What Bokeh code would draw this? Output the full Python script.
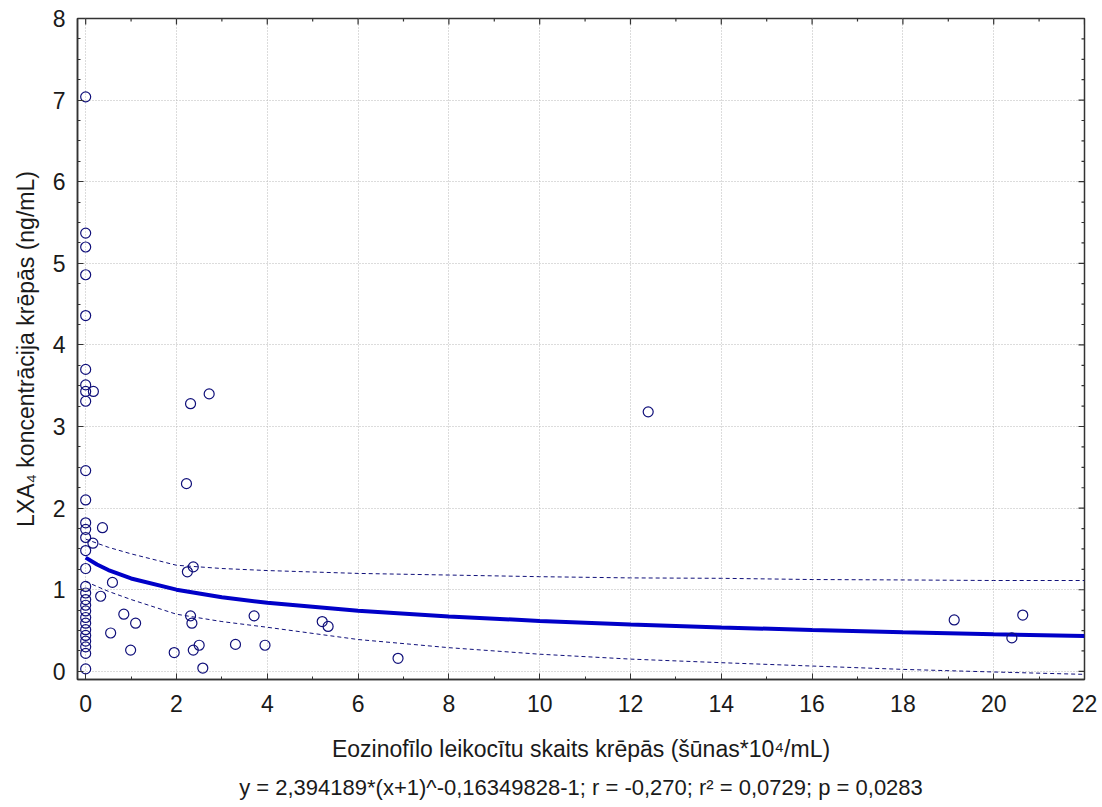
import math
from bokeh.plotting import figure
from bokeh.models import Range1d, SingleIntervalTicker, Title
from bokeh.embed import file_html
from bokeh.resources import INLINE

# ---- data ----
col_x = [0.0] * 29
col_y = [7.04, 5.37, 5.20, 4.86, 4.36, 3.70, 3.51, 3.43, 3.31, 2.46, 2.10, 1.82,
         1.74, 1.64, 1.48, 1.26, 1.04, 0.96, 0.88, 0.81, 0.74, 0.66, 0.59, 0.51,
         0.44, 0.37, 0.30, 0.22, 0.03]
pts_x = [0.17, 0.37, 0.16, 0.59, 0.33, 0.84, 1.10, 0.55, 0.99,
         2.72, 2.31, 2.22, 2.37, 2.24, 2.31, 2.34, 3.71, 5.21, 5.34, 1.95, 2.37,
         2.50, 3.30, 3.95, 2.58, 6.88,
         12.39, 19.13, 20.40, 20.64]
pts_y = [3.43, 1.76, 1.57, 1.09, 0.92, 0.70, 0.59, 0.47, 0.26,
         3.40, 3.28, 2.30, 1.28, 1.22, 0.68, 0.59, 0.68, 0.61, 0.55, 0.23, 0.26,
         0.32, 0.33, 0.32, 0.04, 0.16,
         3.18, 0.63, 0.41, 0.69]

fit_x = [0, 0.25, 0.5, 1, 2, 3, 4, 6, 8, 10, 12, 14, 16, 18, 20, 22]
fit_y = [1.394, 1.309, 1.241, 1.138, 1.001, 0.909, 0.840, 0.742, 0.672, 0.618,
         0.574, 0.538, 0.507, 0.480, 0.455, 0.434]

band_x = [0, 0.5, 1, 2, 3, 4, 6, 8, 10, 12, 14, 16, 18, 20, 22]
band_hi = [1.62, 1.52, 1.44, 1.30, 1.26, 1.235, 1.20, 1.18, 1.16, 1.145, 1.14,
           1.125, 1.12, 1.113, 1.113]
band_lo = [1.10, 0.98, 0.88, 0.70, 0.61, 0.54, 0.39, 0.29, 0.21, 0.15, 0.106,
           0.065, 0.024, -0.008, -0.037]

# tick positions for the top and right frame edges
x_major = [0, 2, 4, 6, 8, 10, 12, 14, 16, 18, 20, 22]
x_minor = [1, 3, 5, 7, 9, 11, 13, 15, 17, 19, 21]
y_major = [0, 1, 2, 3, 4, 5, 6, 7, 8]
y_minor = [0.25, 0.5, 0.75, 1.25, 1.5, 1.75, 2.25, 2.5, 2.75, 3.25, 3.5, 3.75,
           4.25, 4.5, 4.75, 5.25, 5.5, 5.75, 6.25, 6.5, 6.75, 7.25, 7.5, 7.75]

x_label = "Eozinofīlo leikocītu skaits krēpās (šūnas*10⁴/mL)"
y_label = "LXA₄ koncentrācija krēpās (ng/mL)"
caption = "y = 2,394189*(x+1)^-0,16349828-1; r = -0,270; r² = 0,0729; p = 0,0283"

FONT = "Liberation Sans"
NAVY = "#10107a"
AXC = "#333333"
XMIN, XMAX, YMIN, YMAX = -0.18, 22, -0.1, 8

p = figure(width=1102, height=807, output_backend="svg", toolbar_location=None,
           x_range=Range1d(XMIN, XMAX), y_range=Range1d(YMIN, YMAX),
           min_border_left=77, min_border_right=18, min_border_top=18,
           min_border_bottom=0, background_fill_color="white",
           border_fill_color="white")
p.outline_line_color = AXC
p.outline_line_width = 1.5

p.xaxis.ticker = SingleIntervalTicker(interval=2, num_minor_ticks=2)
p.yaxis.ticker = SingleIntervalTicker(interval=1, num_minor_ticks=4)

for ax in (p.xaxis[0], p.yaxis[0]):
    ax.major_tick_in = 6
    ax.major_tick_out = 0
    ax.minor_tick_in = 3
    ax.minor_tick_out = 0
    ax.axis_line_color = AXC
    ax.axis_line_width = 1.5
    ax.major_tick_line_color = AXC
    ax.minor_tick_line_color = AXC
    ax.major_label_text_font = FONT
    ax.major_label_text_font_size = "23px"
    ax.major_label_text_color = "#1a1a1a"
    ax.axis_label_text_font = FONT
    ax.axis_label_text_font_size = "23px"
    ax.axis_label_text_font_style = "normal"
    ax.axis_label_text_color = "#1a1a1a"

p.xaxis.axis_label = x_label
p.yaxis.axis_label = y_label
p.xaxis.major_label_standoff = 15
p.xaxis.axis_label_standoff = 21
p.yaxis.major_label_standoff = 12
p.yaxis.axis_label_standoff = 11

p.grid.grid_line_color = "#b8b8b8"
p.grid.grid_line_dash = "1 2"
p.grid.grid_line_width = 1

# inward ticks on the top and right edges (markers are clipped to the frame)
p.scatter(x_major, [YMAX] * len(x_major), marker="dash", size=12, angle=math.pi / 2,
          line_color=AXC, line_width=1.2)
p.scatter(x_minor, [YMAX] * len(x_minor), marker="dash", size=6, angle=math.pi / 2,
          line_color=AXC, line_width=1.2)
p.scatter([XMAX] * len(y_major), y_major, marker="dash", size=12,
          line_color=AXC, line_width=1.2)
p.scatter([XMAX] * len(y_minor), y_minor, marker="dash", size=6,
          line_color=AXC, line_width=1.2)

p.line(band_x, band_hi, line_color=NAVY, line_width=1, line_dash="4 3")
p.line(band_x, band_lo, line_color=NAVY, line_width=1, line_dash="4 3")
p.line(fit_x, fit_y, line_color="#0000c8", line_width=4)

p.scatter(col_x, col_y, size=10, fill_color=None, line_color=NAVY, line_width=1.2)
p.scatter(pts_x, pts_y, size=10, fill_color=None, line_color=NAVY, line_width=1.2)

cap = Title(text=caption, align="center", text_font=FONT, text_font_size="22px",
            text_font_style="normal", text_color="#1a1a1a", standoff=16)
p.add_layout(cap, "below")

open("out.html", "w").write(file_html(p, INLINE))
